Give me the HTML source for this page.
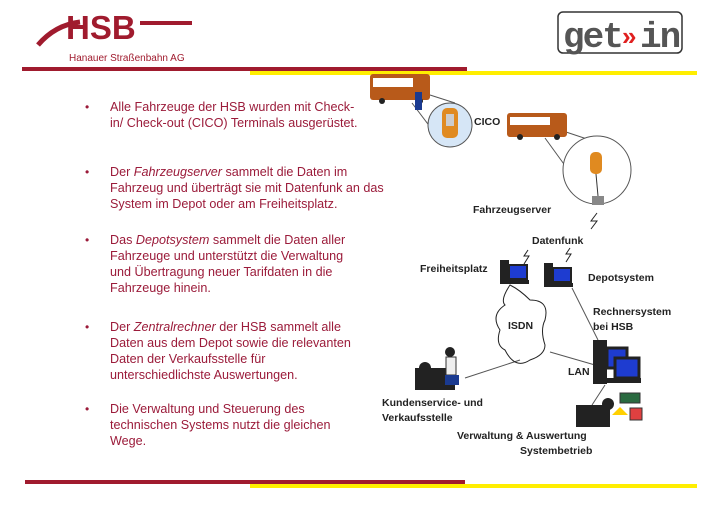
<!DOCTYPE html>
<html><head><meta charset="utf-8"><style>
body{margin:0;width:709px;height:505px;background:#fff;position:relative;overflow:hidden;font-family:"Liberation Sans",sans-serif}
.t{position:absolute;color:#9b1b3a;font-size:12.6px;line-height:16px;left:110px;white-space:nowrap}
.b{position:absolute;left:85px;color:#9b1b3a;font-size:12px}
.l{position:absolute;font-size:10.5px;font-weight:bold;color:#222;white-space:nowrap;line-height:15px}
</style></head><body>
<svg width="709" height="505" style="position:absolute;left:0;top:0">
<!-- header -->
<path d="M38,45 Q55,25 80,22" stroke="#a01b2e" stroke-width="5" fill="none"/>
<text x="66" y="39" font-family="Liberation Sans" font-weight="bold" font-size="33" fill="#a01b2e">HSB</text>
<rect x="140" y="21" width="52" height="4" fill="#a01b2e"/>
<text x="69" y="61" font-family="Liberation Sans" font-size="10" fill="#a01b2e">Hanauer Straßenbahn AG</text>
<rect x="558" y="12" width="124" height="41" rx="5" fill="#fff" stroke="#333" stroke-width="1.5"/>
<text x="563" y="47" font-family="Liberation Mono" font-weight="bold" font-size="36" fill="#555" letter-spacing="-2">get</text>
<text x="622" y="45" font-family="Liberation Sans" font-weight="bold" font-size="26" fill="#e02020">»</text>
<text x="640" y="47" font-family="Liberation Mono" font-weight="bold" font-size="36" fill="#555" letter-spacing="-2">in</text>
<rect x="250" y="71" width="447" height="4" fill="#ffee00"/>
<rect x="22" y="67" width="445" height="4" fill="#a01b2e"/>
<rect x="250" y="484" width="447" height="4" fill="#ffee00"/>
<rect x="25" y="480" width="440" height="4" fill="#a01b2e"/>
<!-- diagram lines -->
<g stroke="#555" stroke-width="1" fill="none">
<line x1="412" y1="103" x2="440" y2="140"/><line x1="430" y1="95" x2="455" y2="103"/>
<line x1="545" y1="138" x2="590" y2="200"/><line x1="560" y1="130" x2="620" y2="150"/>
<line x1="572" y1="288" x2="598" y2="340"/><line x1="550" y1="352" x2="595" y2="365"/>
<line x1="465" y1="378" x2="520" y2="360"/><line x1="605" y1="385" x2="592" y2="405"/>
<path d="M510,285 Q500,300 505,305 Q490,315 500,330 Q495,345 505,350 Q515,370 530,360 Q545,355 545,345 Q540,330 545,320 Q550,300 530,300 Q520,290 510,285Z" stroke="#222"/>
</g>
<!-- circles -->
<circle cx="450" cy="125" r="22" fill="#d6e6f6" stroke="#555"/>
<rect x="442" y="108" width="16" height="30" rx="5" fill="#e08a20"/><rect x="446" y="114" width="8" height="12" fill="#ccc"/>
<circle cx="597" cy="170" r="34" fill="#fff" stroke="#555"/>
<rect x="590" y="152" width="12" height="22" rx="5" fill="#e08a20"/><rect x="592" y="196" width="12" height="9" fill="#888"/>
<line x1="596" y1="174" x2="598" y2="196" stroke="#333"/>
<!-- buses -->
<g><rect x="370" y="74" width="60" height="26" rx="3" fill="#b85a1a"/><rect x="373" y="78" width="40" height="9" fill="#fff"/><circle cx="382" cy="101" r="3" fill="#222"/><circle cx="420" cy="101" r="3" fill="#222"/><rect x="415" y="92" width="7" height="18" fill="#1a3a90"/></g>
<g><rect x="507" y="113" width="60" height="24" rx="3" fill="#b85a1a"/><rect x="510" y="117" width="40" height="8" fill="#fff"/><circle cx="520" cy="137" r="3" fill="#222"/><circle cx="557" cy="137" r="3" fill="#222"/></g>
<!-- lightning -->
<path d="M597,213 l-6,8 l6,0 l-6,8" stroke="#222" fill="none"/>
<path d="M528,250 l-4,6 l5,0 l-5,8" stroke="#222" fill="none"/>
<path d="M570,248 l-4,6 l5,0 l-5,8" stroke="#222" fill="none"/>
<!-- computers -->
<g><rect x="500" y="260" width="9" height="24" fill="#222"/><rect x="509" y="265" width="18" height="14" fill="#1e3cd0" stroke="#222" stroke-width="2"/><rect x="507" y="280" width="22" height="4" fill="#222"/></g>
<g><rect x="544" y="263" width="9" height="24" fill="#222"/><rect x="553" y="268" width="18" height="14" fill="#1e3cd0" stroke="#222" stroke-width="2"/><rect x="551" y="283" width="22" height="4" fill="#222"/></g>
<g><rect x="593" y="340" width="14" height="44" fill="#222"/><rect x="607" y="348" width="20" height="20" fill="#1e3cd0" stroke="#222" stroke-width="3"/><rect x="615" y="358" width="24" height="20" fill="#1e3cd0" stroke="#222" stroke-width="3"/><rect x="607" y="378" width="34" height="5" fill="#222"/></g>
<!-- people -->
<g><rect x="415" y="368" width="40" height="22" fill="#222"/><circle cx="450" cy="352" r="5" fill="#222"/><rect x="446" y="357" width="10" height="18" fill="#eee" stroke="#333"/><rect x="445" y="375" width="14" height="10" fill="#1a3a90"/><circle cx="425" cy="368" r="6" fill="#222"/></g>
<g><rect x="576" y="405" width="34" height="22" fill="#222"/><circle cx="608" cy="404" r="6" fill="#222"/><rect x="620" y="393" width="20" height="10" fill="#2a6a40" stroke="#333"/><rect x="630" y="408" width="12" height="12" fill="#e04040" stroke="#333"/><path d="M612,415 l8,-8 l8,8z" fill="#ffd000"/></g>
</svg>
<div class="b" style="top:100px">•</div><div class="t" style="top:99px">Alle Fahrzeuge der HSB wurden mit Check-<br>in/ Check-out (CICO) Terminals ausgerüstet.</div>
<div class="b" style="top:165px">•</div><div class="t" style="top:164px">Der <i>Fahrzeugserver</i> sammelt die Daten im<br>Fahrzeug und überträgt sie mit Datenfunk an das<br>System im Depot oder am Freiheitsplatz.</div>
<div class="b" style="top:233px">•</div><div class="t" style="top:232px">Das <i>Depotsystem</i> sammelt die Daten aller<br>Fahrzeuge und unterstützt die Verwaltung<br>und Übertragung neuer Tarifdaten in die<br>Fahrzeuge hinein.</div>
<div class="b" style="top:320px">•</div><div class="t" style="top:319px">Der <i>Zentralrechner</i> der HSB sammelt alle<br>Daten aus dem Depot sowie die relevanten<br>Daten der Verkaufsstelle für<br>unterschiedlichste Auswertungen.</div>
<div class="b" style="top:402px">•</div><div class="t" style="top:401px">Die Verwaltung und Steuerung des<br>technischen Systems nutzt die gleichen<br>Wege.</div>
<div class="l" style="left:474px;top:115px">CICO</div>
<div class="l" style="left:473px;top:203px">Fahrzeugserver</div>
<div class="l" style="left:532px;top:234px">Datenfunk</div>
<div class="l" style="left:420px;top:262px">Freiheitsplatz</div>
<div class="l" style="left:588px;top:271px">Depotsystem</div>
<div class="l" style="left:593px;top:305px">Rechnersystem<br>bei HSB</div>
<div class="l" style="left:508px;top:319px">ISDN</div>
<div class="l" style="left:568px;top:365px">LAN</div>
<div class="l" style="left:382px;top:396px">Kundenservice- und<br>Verkaufsstelle</div>
<div class="l" style="left:457px;top:429px">Verwaltung &amp; Auswertung</div>
<div class="l" style="left:520px;top:444px">Systembetrieb</div>
</body></html>
